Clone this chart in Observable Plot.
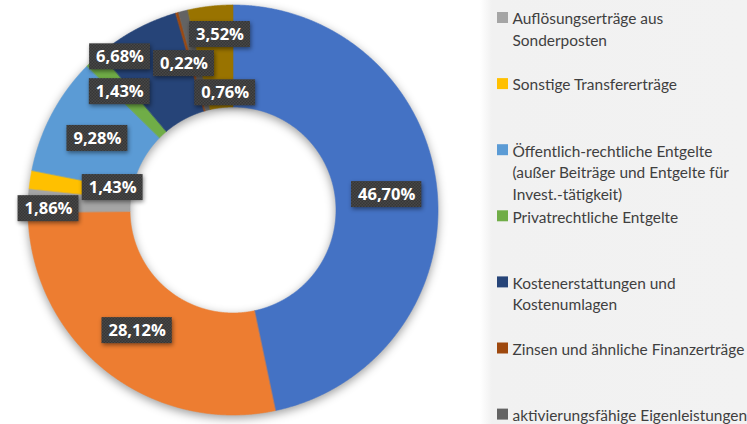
<!DOCTYPE html>
<html><head><meta charset="utf-8">
<script src="https://cdn.jsdelivr.net/npm/d3@7"></script>
<script src="https://cdn.jsdelivr.net/npm/@observablehq/plot@0.6"></script>
<style>
html,body{margin:0;padding:0;background:#fff;}
#chart{width:747px;height:424px;position:relative;overflow:hidden;
 background:linear-gradient(to right,#ffffff 0px,#ffffff 480px,#f1f1f1 492px,#f2f2f2 747px);}
#chart svg{display:block;}
#chart g[aria-label="area"]{filter:drop-shadow(0px 3px 5px rgba(0,0,0,0.38));}
#chart g[aria-label="rect"]{filter:drop-shadow(1px 2px 2px rgba(0,0,0,0.45));}
</style></head><body><div id="chart"></div>
<script>
// ---- data ----
const categories = [
  "Steuern und ähnliche Abgaben",
  "Zuwendungen und allgemeine Umlagen",
  "Auflösungserträge aus Sonderposten",
  "Sonstige Transfererträge",
  "Öffentlich-rechtliche Entgelte (außer Beiträge und Entgelte für Invest.-tätigkeit)",
  "Privatrechtliche Entgelte",
  "Kostenerstattungen und Kostenumlagen",
  "Zinsen und ähnliche Finanzerträge",
  "aktivierungsfähige Eigenleistungen",
  "sonstige ordentliche Erträge"
];
const values = [46.70, 28.12, 1.86, 1.43, 9.28, 1.43, 6.68, 0.22, 0.76, 3.52];
const colors = ["#4472C4","#ED7D31","#A5A5A5","#FFC000","#5B9BD5","#70AD47","#264478","#9E480E","#636363","#997300"];
const legendLabels = [
  "Steuern und ähnliche Abgaben",
  "Zuwendungen und allgemeine Umlagen",
  "Auflösungserträge aus\nSonderposten",
  "Sonstige Transfererträge",
  "Öffentlich-rechtliche Entgelte\n(außer Beiträge und Entgelte für\nInvest.-tätigkeit)",
  "Privatrechtliche Entgelte",
  "Kostenerstattungen und\nKostenumlagen",
  "Zinsen und ähnliche Finanzerträge",
  "aktivierungsfähige Eigenleistungen",
  "sonstige ordentliche Erträge"
];

// ---- layout ----
const W = 747, H = 424;
const cx = 233, cy = 210, R = 205, r0 = 103;
const LF = 16.5; // label font size
const fmt = v => v.toFixed(2).replace(".", ",") + "%";

const canvas = document.createElement("canvas");
const ctx = canvas.getContext("2d");

const arcs = d3.pie().sort(null).value(d => d)(values);

// ring polygons
const ring = [];
arcs.forEach((a, i) => {
  const n = Math.max(2, Math.ceil((a.endAngle - a.startAngle) / 0.004) + 1);
  for (let k = 0; k < n; k++) {
    const t = a.startAngle + (a.endAngle - a.startAngle) * k / (n - 1);
    ring.push({cat: categories[i],
      xi: cx + r0 * Math.sin(t), yi: cy - r0 * Math.cos(t),
      xo: cx + R * Math.sin(t), yo: cy - R * Math.cos(t)});
  }
});

// data labels with simple collision relaxation
ctx.font = `bold ${LF}px 'Open Sans'`;
const lab = arcs.map((a, i) => {
  const text = fmt(values[i]);
  return {i, text, v: values[i], th: (a.startAngle + a.endAngle) / 2, r: (R + r0) / 2,
          w: ctx.measureText(text).width + 13, h: 26};
});
const pos = l => ({x: cx + l.r * Math.sin(l.th), y: cy - l.r * Math.cos(l.th)});
for (let it = 0; it < 1000; it++) {
  let any = false;
  for (let i = 0; i < lab.length; i++) for (let j = i + 1; j < lab.length; j++) {
    const a = lab[i], b = lab[j], pa = pos(a), pb = pos(b);
    const ox = (a.w + b.w) / 2 + 3 - Math.abs(pa.x - pb.x);
    const oy = (a.h + b.h) / 2 + 3 - Math.abs(pa.y - pb.y);
    if (ox > 0 && oy > 0) {
      any = true;
      // larger slice moves outward; among tiny slices the earlier one moves outward
      const [big, small] = (a.v < 1 && b.v < 1) ? [a, b] : (a.v >= b.v ? [a, b] : [b, a]);
      big.r += 0.5; small.r -= 0.5;
      const s = Math.sign(a.th - b.th) || -1;
      a.th += s * 0.0006; b.th -= s * 0.0006;
    }
  }
  for (const l of lab) l.r = Math.max(r0 + 15, Math.min(R - 14, l.r));
  if (!any) break;
}
lab.forEach(l => { const p = pos(l); l.x = p.x; l.y = p.y; });

// legend
const legFont = "Lato";
ctx.font = `15px ${legFont}`;
const legSize = Math.min(17, 15 * 232 / ctx.measureText("Zinsen und ähnliche Finanzerträge").width);
const legLH = 21.5;
const legStep = 66.1, legFirst = 17 - 2 * legStep;
const legX = 502;
const legend = categories.map((c, i) => {
  const lines = legendLabels[i].split("\n").length;
  const y = legFirst + i * legStep;
  return {cat: c, label: legendLabels[i], y, ym: y + (lines - 1) * legLH / 2};
}).filter(d => d.y > 0 && d.y < H);

const plot = Plot.plot({
  width: W, height: H, margin: 0,
  x: {domain: [0, W], range: [0, W], axis: null},
  y: {domain: [0, H], range: [0, H], axis: null},
  color: {domain: categories, range: colors},
  style: {background: "transparent", overflow: "visible"},
  marks: [
    Plot.area(ring, {x1: "xi", y1: "yi", x2: "xo", y2: "yo", z: "cat", fill: "cat", stroke: "cat", strokeWidth: 0.6}),
    Plot.rect(lab, {x1: d => d.x - d.w / 2, x2: d => d.x + d.w / 2, y1: d => d.y - d.h / 2, y2: d => d.y + d.h / 2, fill: "url(#chk)"}),
    Plot.text(lab, {x: "x", y: "y", text: "text", fill: "white", fontWeight: "bold", fontSize: LF, fontFamily: "Open Sans"}),
    Plot.dot(legend, {x: legX, y: "y", symbol: "square", r: 6.2, fill: "cat"}),
    Plot.text(legend, {x: legX + 10, y: "ym", text: "label", textAnchor: "start", lineHeight: legLH / legSize,
      fontSize: legSize, fontFamily: legFont, fill: "#3f3f3f"})
  ]
});
d3.select(plot).insert("defs", ":first-child").html(
  `<pattern id="chk" width="3" height="3" patternUnits="userSpaceOnUse">
     <rect width="3" height="3" fill="#363636"/>
     <rect width="1.5" height="1.5" fill="#474747"/>
     <rect x="1.5" y="1.5" width="1.5" height="1.5" fill="#474747"/>
   </pattern>`);
document.getElementById("chart").appendChild(plot);
</script>
</body></html>
